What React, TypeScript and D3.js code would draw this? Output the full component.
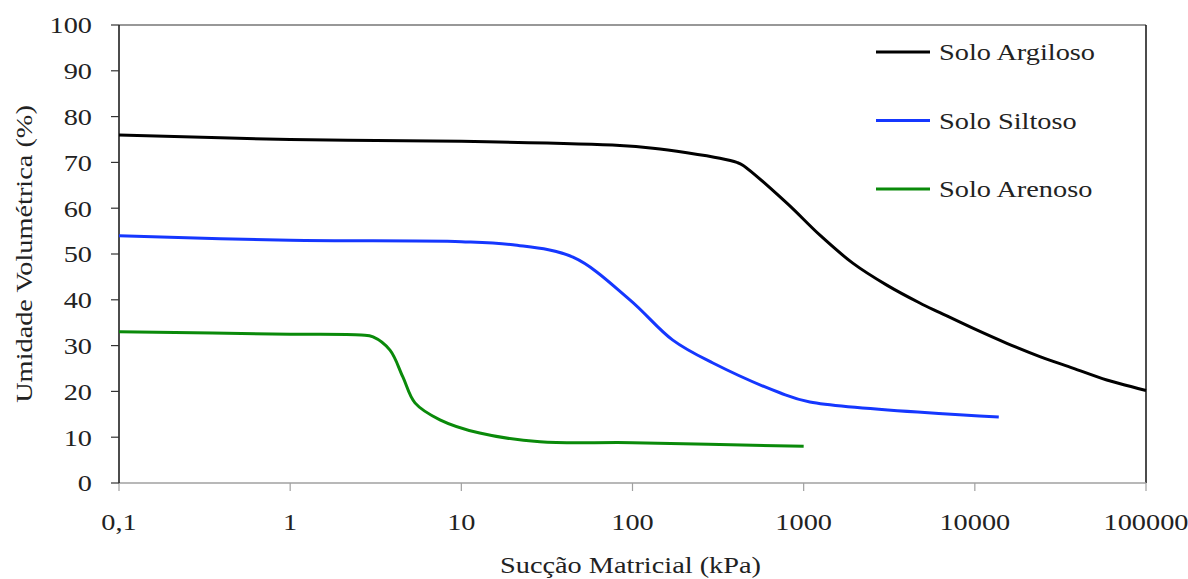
import * as d3 from 'd3';

// suction (kPa) and volumetric water content (%)
const argilosoX = [0.1, 1, 10, 84.4, 131.6, 208, 324, 407, 441, 798, 1245, 1936, 3060, 4770, 6250, 9730, 15380, 23990, 37330, 59000, 100000];
const argilosoY = [76, 75, 74.6, 73.7, 73.1, 72.1, 70.9, 70, 69.4, 61.1, 54.1, 48, 43.2, 39.3, 37.2, 33.8, 30.5, 27.6, 25.1, 22.5, 20.2];
const siltosoX = [0.1, 1, 10, 20, 44.9, 96.5, 172, 295, 726, 1087, 13800];
const siltosoY = [54, 53, 52.7, 52, 49.3, 40, 31.2, 26.2, 19.7, 17.7, 14.4];
const arenosoX = [0.1, 1, 2.6, 3.05, 3.83, 4.56, 5.36, 7.5, 12.8, 28.8, 100, 1000];
const arenosoY = [33, 32.5, 32.3, 31.9, 29, 23.1, 17.5, 13.8, 10.9, 9, 8.8, 8];

const seriesNames = ['Solo Argiloso', 'Solo Siltoso', 'Solo Arenoso'];
const seriesColors = ['#000000', '#1537ff', '#0a8a0a'];
const xTicks = [0.1, 1, 10, 100, 1000, 10000, 100000];
const xTickLabels = ['0,1', '1', '10', '100', '1000', '10000', '100000'];
const yTicks = [0, 10, 20, 30, 40, 50, 60, 70, 80, 90, 100];

const font = '"Liberation Serif", "Times New Roman", serif';
const stretch = 1.18;

// the reference text is a little wider than the serif font, so stretch it
const Label = ({ x, y, anchor = 'start', rotate = 0, dy = '0', children }: any) => (
  <g transform={`translate(${x},${y}) rotate(${rotate}) scale(${stretch},1)`}>
    <text textAnchor={anchor} dy={dy} fontSize={24} fontFamily={font} fill="#222">{children}</text>
  </g>
);

const App = () => {
  const width = 1188;
  const height = 579;
  const margin = { top: 25, right: 42, bottom: 96, left: 119 };
  const innerW = width - margin.left - margin.right;
  const innerH = height - margin.top - margin.bottom;

  const x = d3.scaleLog().domain([0.1, 100000]).range([0, innerW]);
  const y = d3.scaleLinear().domain([0, 100]).range([innerH, 0]);

  const line = d3.line<[number, number]>()
    .x(d => x(d[0]))
    .y(d => y(d[1]))
    .curve(d3.curveCatmullRom.alpha(0.5));

  const series = [
    d3.zip(argilosoX, argilosoY) as [number, number][],
    d3.zip(siltosoX, siltosoY) as [number, number][],
    d3.zip(arenosoX, arenosoY) as [number, number][],
  ];

  return (
    <svg width={width} height={height} style={{ position: 'absolute', left: 0, top: 0, background: '#fff' }}>
      <g transform={`translate(${margin.left},${margin.top})`}>
        {/* frame: top and right */}
        <line x1={0} x2={innerW} y1={0} y2={0} stroke="#333" strokeWidth={1.2} />
        <line x1={innerW} x2={innerW} y1={0} y2={innerH} stroke="#111" strokeWidth={1.5} />

        {/* bottom axis */}
        <line x1={0} x2={innerW} y1={innerH} y2={innerH} stroke="#a0a0a0" strokeWidth={1.5} />
        {xTicks.map((t, i) => (
          <g key={t}>
            <line x1={x(t)} x2={x(t)} y1={innerH} y2={innerH + 8} stroke="#a0a0a0" strokeWidth={1.2} />
            <Label x={x(t)} y={innerH + 47} anchor="middle">{xTickLabels[i]}</Label>
          </g>
        ))}

        {/* left axis */}
        <line x1={0} x2={0} y1={0} y2={innerH} stroke="#111" strokeWidth={1.5} />
        {yTicks.map(t => (
          <g key={t}>
            <line x1={-8} x2={0} y1={y(t)} y2={y(t)} stroke="#333" strokeWidth={1.2} />
            <Label x={-27} y={y(t)} anchor="end" dy="0.35em">{t}</Label>
          </g>
        ))}

        {series.map((s, i) => (
          <path key={i} d={line(s) || ''} fill="none" stroke={seriesColors[i]} strokeWidth={3} />
        ))}

        {/* legend */}
        {seriesNames.map((n, i) => (
          <g key={n}>
            <line x1={876 - margin.left} x2={930 - margin.left}
              y1={52 - margin.top + i * 68.5} y2={52 - margin.top + i * 68.5}
              stroke={seriesColors[i]} strokeWidth={3} />
            <Label x={939 - margin.left} y={52 - margin.top + i * 68.5} dy="0.35em">{n}</Label>
          </g>
        ))}

        <Label x={innerW / 2 - 2} y={innerH + 90} anchor="middle">Sucção Matricial (kPa)</Label>
        <Label x={24 - margin.left} y={innerH / 2} rotate={-90} anchor="middle" dy="0.35em">
          Umidade Volumétrica (%)
        </Label>
      </g>
    </svg>
  );
};

export default App;
